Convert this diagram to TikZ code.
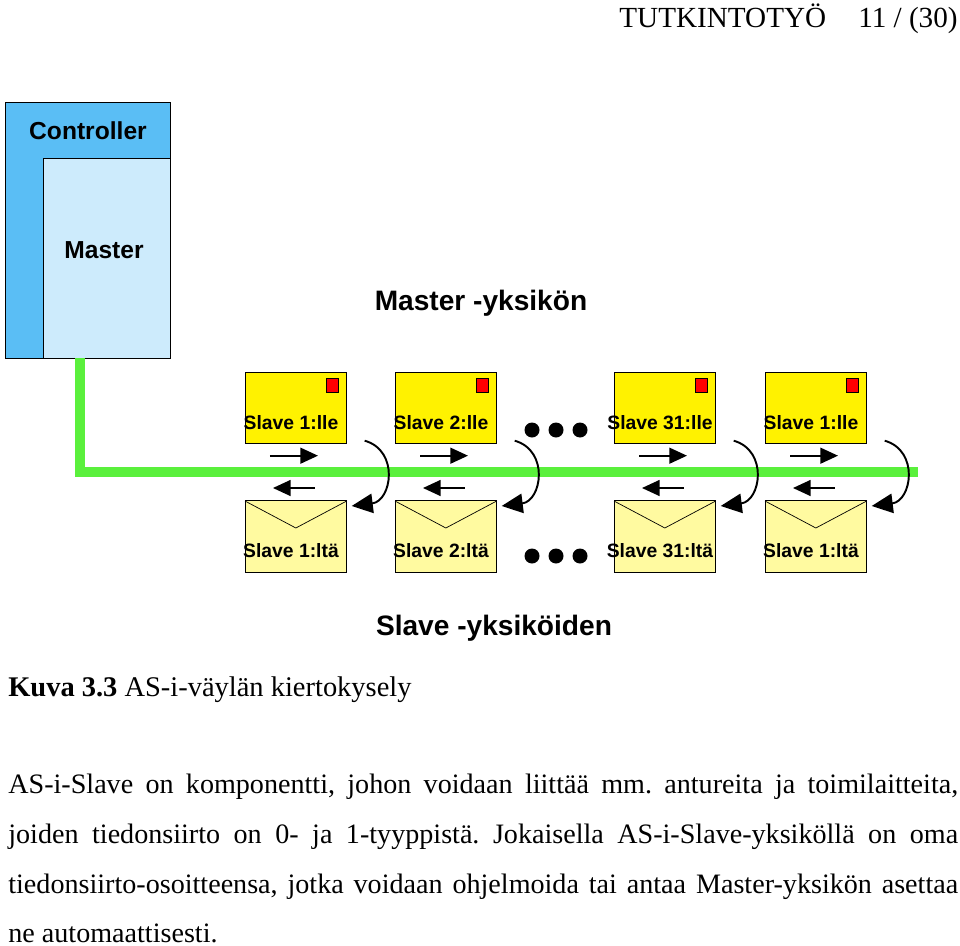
\documentclass[tikz,border=0pt]{standalone}
\usepackage{fontspec}
\setmainfont{Liberation Serif}
\setsansfont{Liberation Sans}
\usetikzlibrary{arrows.meta}
\definecolor{ctrlblue}{RGB}{90,190,245}
\definecolor{mastblue}{RGB}{205,235,252}
\definecolor{busgreen}{RGB}{90,240,60}
\definecolor{envyellow}{RGB}{255,250,160}
\frenchspacing
\tikzset{
  slavebox/.style={draw, fill=yellow, minimum width=2.02cm, minimum height=1.42cm, inner sep=0pt, anchor=north west},
  envbox/.style={draw, fill=envyellow, minimum width=2.02cm, minimum height=1.44cm, inner sep=0pt, anchor=north west},
  slavetxt/.style={font=\sffamily\bfseries\fontsize{11}{13}\selectfont, inner sep=0pt},
  msg/.style={-{Triangle[length=10pt,width=9pt]}, line width=1pt},
  turn/.style={-{Triangle[length=12pt,width=11pt]}, line width=1.1pt},
}
\begin{document}
\begin{tikzpicture}[x=0.02cm, y=-0.02cm]
    \useasboundingbox (0,0) rectangle (960,946);
    % header
    \node[anchor=base east, inner sep=0pt, font=\fontsize{16.6}{18}\selectfont] (head) at (958,28) {TUTKINTOTYÖ\hspace{1.1em}11 / (30)};
    % controller and master
    \node[draw, fill=ctrlblue, minimum width=3.3cm, minimum height=5.12cm, anchor=north west, inner sep=0pt] (ctrl) at (5,102) {};
    \node[draw, fill=mastblue, minimum width=2.54cm, minimum height=4cm, anchor=north west, inner sep=0pt] (mast) at (43,158) {};
    \node[font=\sffamily\bfseries\fontsize{14}{16}\selectfont] (ctrltxt) at (88,131) {Controller};
    \node[font=\sffamily\bfseries\fontsize{14}{16}\selectfont] (masttxt) at (104,250) {Master};
    \node[font=\sffamily\bfseries\fontsize{16}{18}\selectfont] (mastyks) at (481,303) {Master -yksikön};
    % bus
    \coordinate (busend) at (918,472);
    \draw[busgreen, line width=0.2cm] (80,358) |- (busend);
    % slaves
    \foreach \n/\x/\lab in {1/245/1, 2/395/2, 3/614/31, 4/765/1} {
      \node[slavebox] (ule\n) at (\x,372) {};
      \node[slavetxt] at (\x+46,423) {Slave \lab:lle};
      \fill[red] ([xshift=-0.4cm,yshift=-0.12cm]ule\n.north east) rectangle ++(12,14);
      \draw ([xshift=-0.4cm,yshift=-0.12cm]ule\n.north east) rectangle ++(12,14);
      \node[envbox] (ita\n) at (\x,500) {};
      \draw ([yshift=-0.02cm]ita\n.north west) -- ([yshift=-0.56cm]ita\n.north) -- ([yshift=-0.02cm]ita\n.north east);
      \node[slavetxt] at (\x+46,551) {Slave \lab:ltä};
      \draw[msg] ([xshift=0.5cm,yshift=-0.24cm]ule\n.south west) -- ++(48,0);
      \draw[msg] ([xshift=1.4cm,yshift=0.24cm]ita\n.north west) -- ++(-42,0);
      \draw[turn] ([xshift=0.36cm,yshift=0.06cm]ule\n.south east)
          .. controls +(35,10) and +(40,-5) .. ([xshift=0.1cm,yshift=-0.12cm]ita\n.north east);
    }
    % dots
    \foreach \y in {430,556} \foreach \x in {532,556,580} \fill (\x,\y) circle (7.5);
    \node[font=\sffamily\bfseries\fontsize{16}{18}\selectfont] (slyks) at (494,628) {Slave -yksiköiden};
    % caption and text
    \node[anchor=base west, inner sep=0pt, font=\fontsize{16.2}{18}\selectfont] (cap) at (8,696) {\textbf{Kuva 3.3} AS-i-väylän kiertokysely};
    \begin{scope}[every node/.style={anchor=base west, inner sep=0pt, font=\fontsize{16}{18}\selectfont}]
      \node (l1) at (8,793) {\makebox[19cm][s]{AS-i-Slave on komponentti, johon voidaan liittää mm. antureita ja toimilaitteita,}};
      \node (l2) at (8,843) {\makebox[19cm][s]{joiden tiedonsiirto on 0- ja 1-tyyppistä. Jokaisella AS-i-Slave-yksiköllä on oma}};
      \node (l3) at (8,893) {\makebox[19cm][s]{tiedonsiirto-osoitteensa, jotka voidaan ohjelmoida tai antaa Master-yksikön asettaa}};
      \node (l4) at (8,942) {ne automaattisesti.};
    \end{scope}
\end{tikzpicture}
\end{document}
